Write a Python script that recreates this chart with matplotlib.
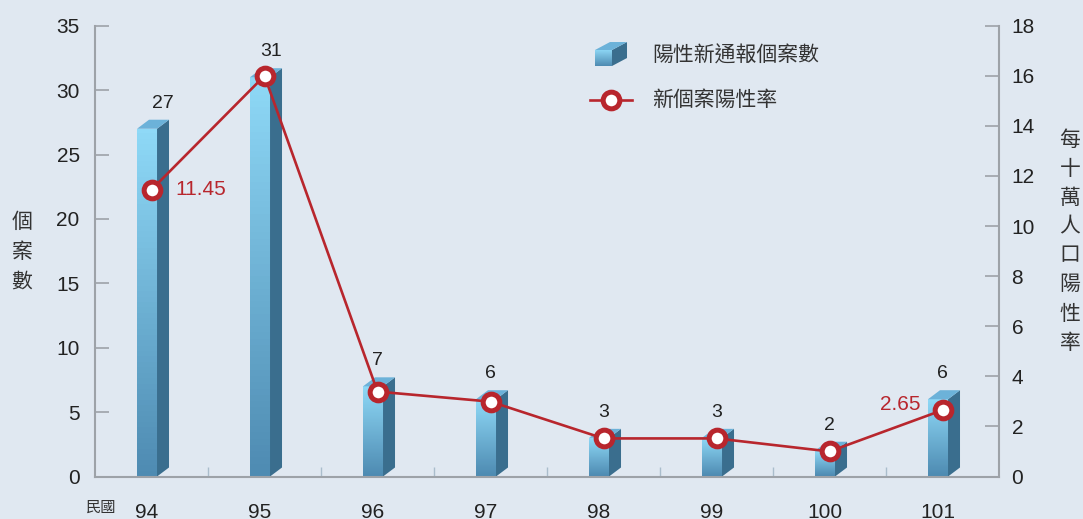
import matplotlib.pyplot as plt
import numpy as np
from matplotlib.colors import LinearSegmentedColormap
from matplotlib.patches import Polygon, Rectangle
from matplotlib.lines import Line2D

plt.rcParams['font.family'] = ['Liberation Sans', 'Noto Sans CJK TC', 'DejaVu Sans']

# 民國年度、陽性新通報個案數、每十萬人口陽性率
years = ['94', '95', '96', '97', '98', '99', '100', '101']
cases = [27, 31, 7, 6, 3, 3, 2, 6]
rates = [11.45, 16.0, 3.39, 2.99, 1.52, 1.52, 1.0, 2.65]
rate_shown = [0, 7]  # 只標示頭尾兩年的陽性率

bg = '#e0e8f1'
axis_gray = '#9da2a8'
red = '#b8262d'
side_col = '#3a6e8e'
top_col = '#6cb2d9'
front_cmap = LinearSegmentedColormap.from_list('front', ['#4e8bb2', '#8fd9f7'])

fig = plt.figure(figsize=(10.83, 5.19), dpi=100, facecolor=bg)
ax = fig.add_axes([95 / 1083, 42.5 / 519, 904 / 1083, 450.8 / 519])
ax.set_facecolor(bg)
ax2 = ax.twinx()

x = np.arange(len(years))
bar_w = 0.177
bar_off = -0.128
dx, dy = 0.106, 0.70  # 立體深度(x 類別單位, y 個案數單位)

# 前兩根柱子的數字往右挪，避開折線
label_shift = {0: 0.1, 1: 0.06}

grad = np.linspace(0, 1, 64).reshape(-1, 1)
for xi, h in zip(x, cases):
    x0 = xi + bar_off
    x1 = x0 + bar_w
    face = Rectangle((x0, 0), bar_w, h, transform=ax.transData, facecolor='none', edgecolor='none')
    ax.add_patch(face)
    im = ax.imshow(grad, cmap=front_cmap, origin='lower', aspect='auto',
                   extent=[x0, x1, 0, h], zorder=2)
    im.set_clip_path(face)
    ax.add_patch(Polygon([(x1, 0), (x1 + dx, dy), (x1 + dx, h + dy), (x1, h)],
                         closed=True, facecolor=side_col, edgecolor='none', zorder=2))
    ax.add_patch(Polygon([(x0, h), (x1, h), (x1 + dx, h + dy), (x0 + dx, h + dy)],
                         closed=True, facecolor=top_col, edgecolor='none', zorder=2))
    ax.annotate(str(h), (xi + label_shift.get(xi, 0), h + dy), xytext=(0, 12),
                textcoords='offset points', ha='center', va='center', fontsize=14,
                color='#222222')

ax.set_xlim(-0.5, len(years) - 0.5)
ax.set_ylim(0, 35)
ax.set_yticks(range(0, 36, 5))
ax.set_xticks(x + bar_off + bar_w / 2)
ax.set_xticklabels(years)
ax.set_xticks(np.arange(0.5, len(years) - 0.5, 1), minor=True)
ax.tick_params(axis='y', direction='in', length=10, width=1.2, color=axis_gray,
               labelsize=15, labelcolor='#222222', pad=11)
ax.tick_params(axis='x', which='major', length=0, labelsize=15, labelcolor='#222222', pad=19)
ax.tick_params(axis='x', which='minor', direction='in', length=7, width=1, color='#aabdcc')
for s in ['top', 'right']:
    ax.spines[s].set_visible(False)
for s in ['left', 'bottom']:
    ax.spines[s].set_color(axis_gray)
    ax.spines[s].set_linewidth(1.5)

# 陽性率折線
ax2.plot(x, rates, color=red, lw=1.9, marker='o', ms=12, mfc='white', mec=red, mew=3.6,
         zorder=5, clip_on=False)
for i in rate_shown:
    if i == 0:
        ax2.annotate(f'{rates[i]:.2f}', (x[i], rates[i]), xytext=(17, 0),
                     textcoords='offset points', ha='left', va='center', fontsize=15, color=red)
    else:
        ax2.annotate(f'{rates[i]:.2f}', (x[i], rates[i]), xytext=(-16, 4),
                     textcoords='offset points', ha='right', va='center', fontsize=15, color=red)

ax2.set_ylim(0, 18)
ax2.set_yticks(range(0, 19, 2))
ax2.tick_params(axis='y', direction='in', length=10, width=1.2, color=axis_gray,
                labelsize=15, labelcolor='#222222', pad=9)
for s in ['top', 'left', 'bottom']:
    ax2.spines[s].set_visible(False)
ax2.spines['right'].set_color(axis_gray)
ax2.spines['right'].set_linewidth(1.5)

# 圖例
ta = ax2.transAxes
lx0, lx1, ly0, ly1 = 0.5531, 0.5719, 0.9106, 0.9461
ldx, ldy = 0.0166, 0.0177
leg_face = Rectangle((lx0, ly0), lx1 - lx0, ly1 - ly0, transform=ta, facecolor='none', edgecolor='none')
ax2.add_patch(leg_face)
leg_im = ax2.imshow(grad, cmap=front_cmap, origin='lower', aspect='auto',
                    extent=[lx0, lx1, ly0, ly1], transform=ta, zorder=6)
leg_im.set_clip_path(leg_face)
ax2.add_patch(Polygon([(lx1, ly0), (lx1 + ldx, ly0 + ldy), (lx1 + ldx, ly1 + ldy), (lx1, ly1)],
                      closed=True, transform=ta, facecolor=side_col, edgecolor='none', zorder=6))
ax2.add_patch(Polygon([(lx0, ly1), (lx1, ly1), (lx1 + ldx, ly1 + ldy), (lx0 + ldx, ly1 + ldy)],
                      closed=True, transform=ta, facecolor=top_col, edgecolor='none', zorder=6))
ax2.text(0.6162, 0.935, '陽性新通報個案數', transform=ta, ha='left', va='center',
         fontsize=15, color='#333333')
ax2.add_line(Line2D([0.5476, 0.594], [0.8359, 0.8359], transform=ta, color=red, lw=1.9, zorder=6))
ax2.add_line(Line2D([0.5708], [0.8359], transform=ta, marker='o', ms=12, mfc='white', mec=red,
                    mew=3.6, zorder=7))
ax2.text(0.6162, 0.8359, '新個案陽性率', transform=ta, ha='left', va='center',
         fontsize=15, color='#333333')

ax.set_xlim(-0.5, len(years) - 0.5)
ax.set_ylim(0, 35)
ax2.set_xlim(-0.5, len(years) - 0.5)
ax2.set_ylim(0, 18)

# 直書座標軸標題
for k, ch in enumerate('個案數'):
    fig.text(22 / 1083, 1 - (222 + 30 * k) / 519, ch, ha='center', va='center',
             fontsize=15, color='#333333')
for k, ch in enumerate('每十萬人口陽性率'):
    fig.text(1070 / 1083, 1 - (140 + 29 * k) / 519, ch, ha='center', va='center',
             fontsize=15, color='#333333')
fig.text(101 / 1083, 1 - 508 / 519, '民國', ha='center', va='center', fontsize=11, color='#333333')

fig.savefig('out.png', dpi=100, facecolor=bg)
